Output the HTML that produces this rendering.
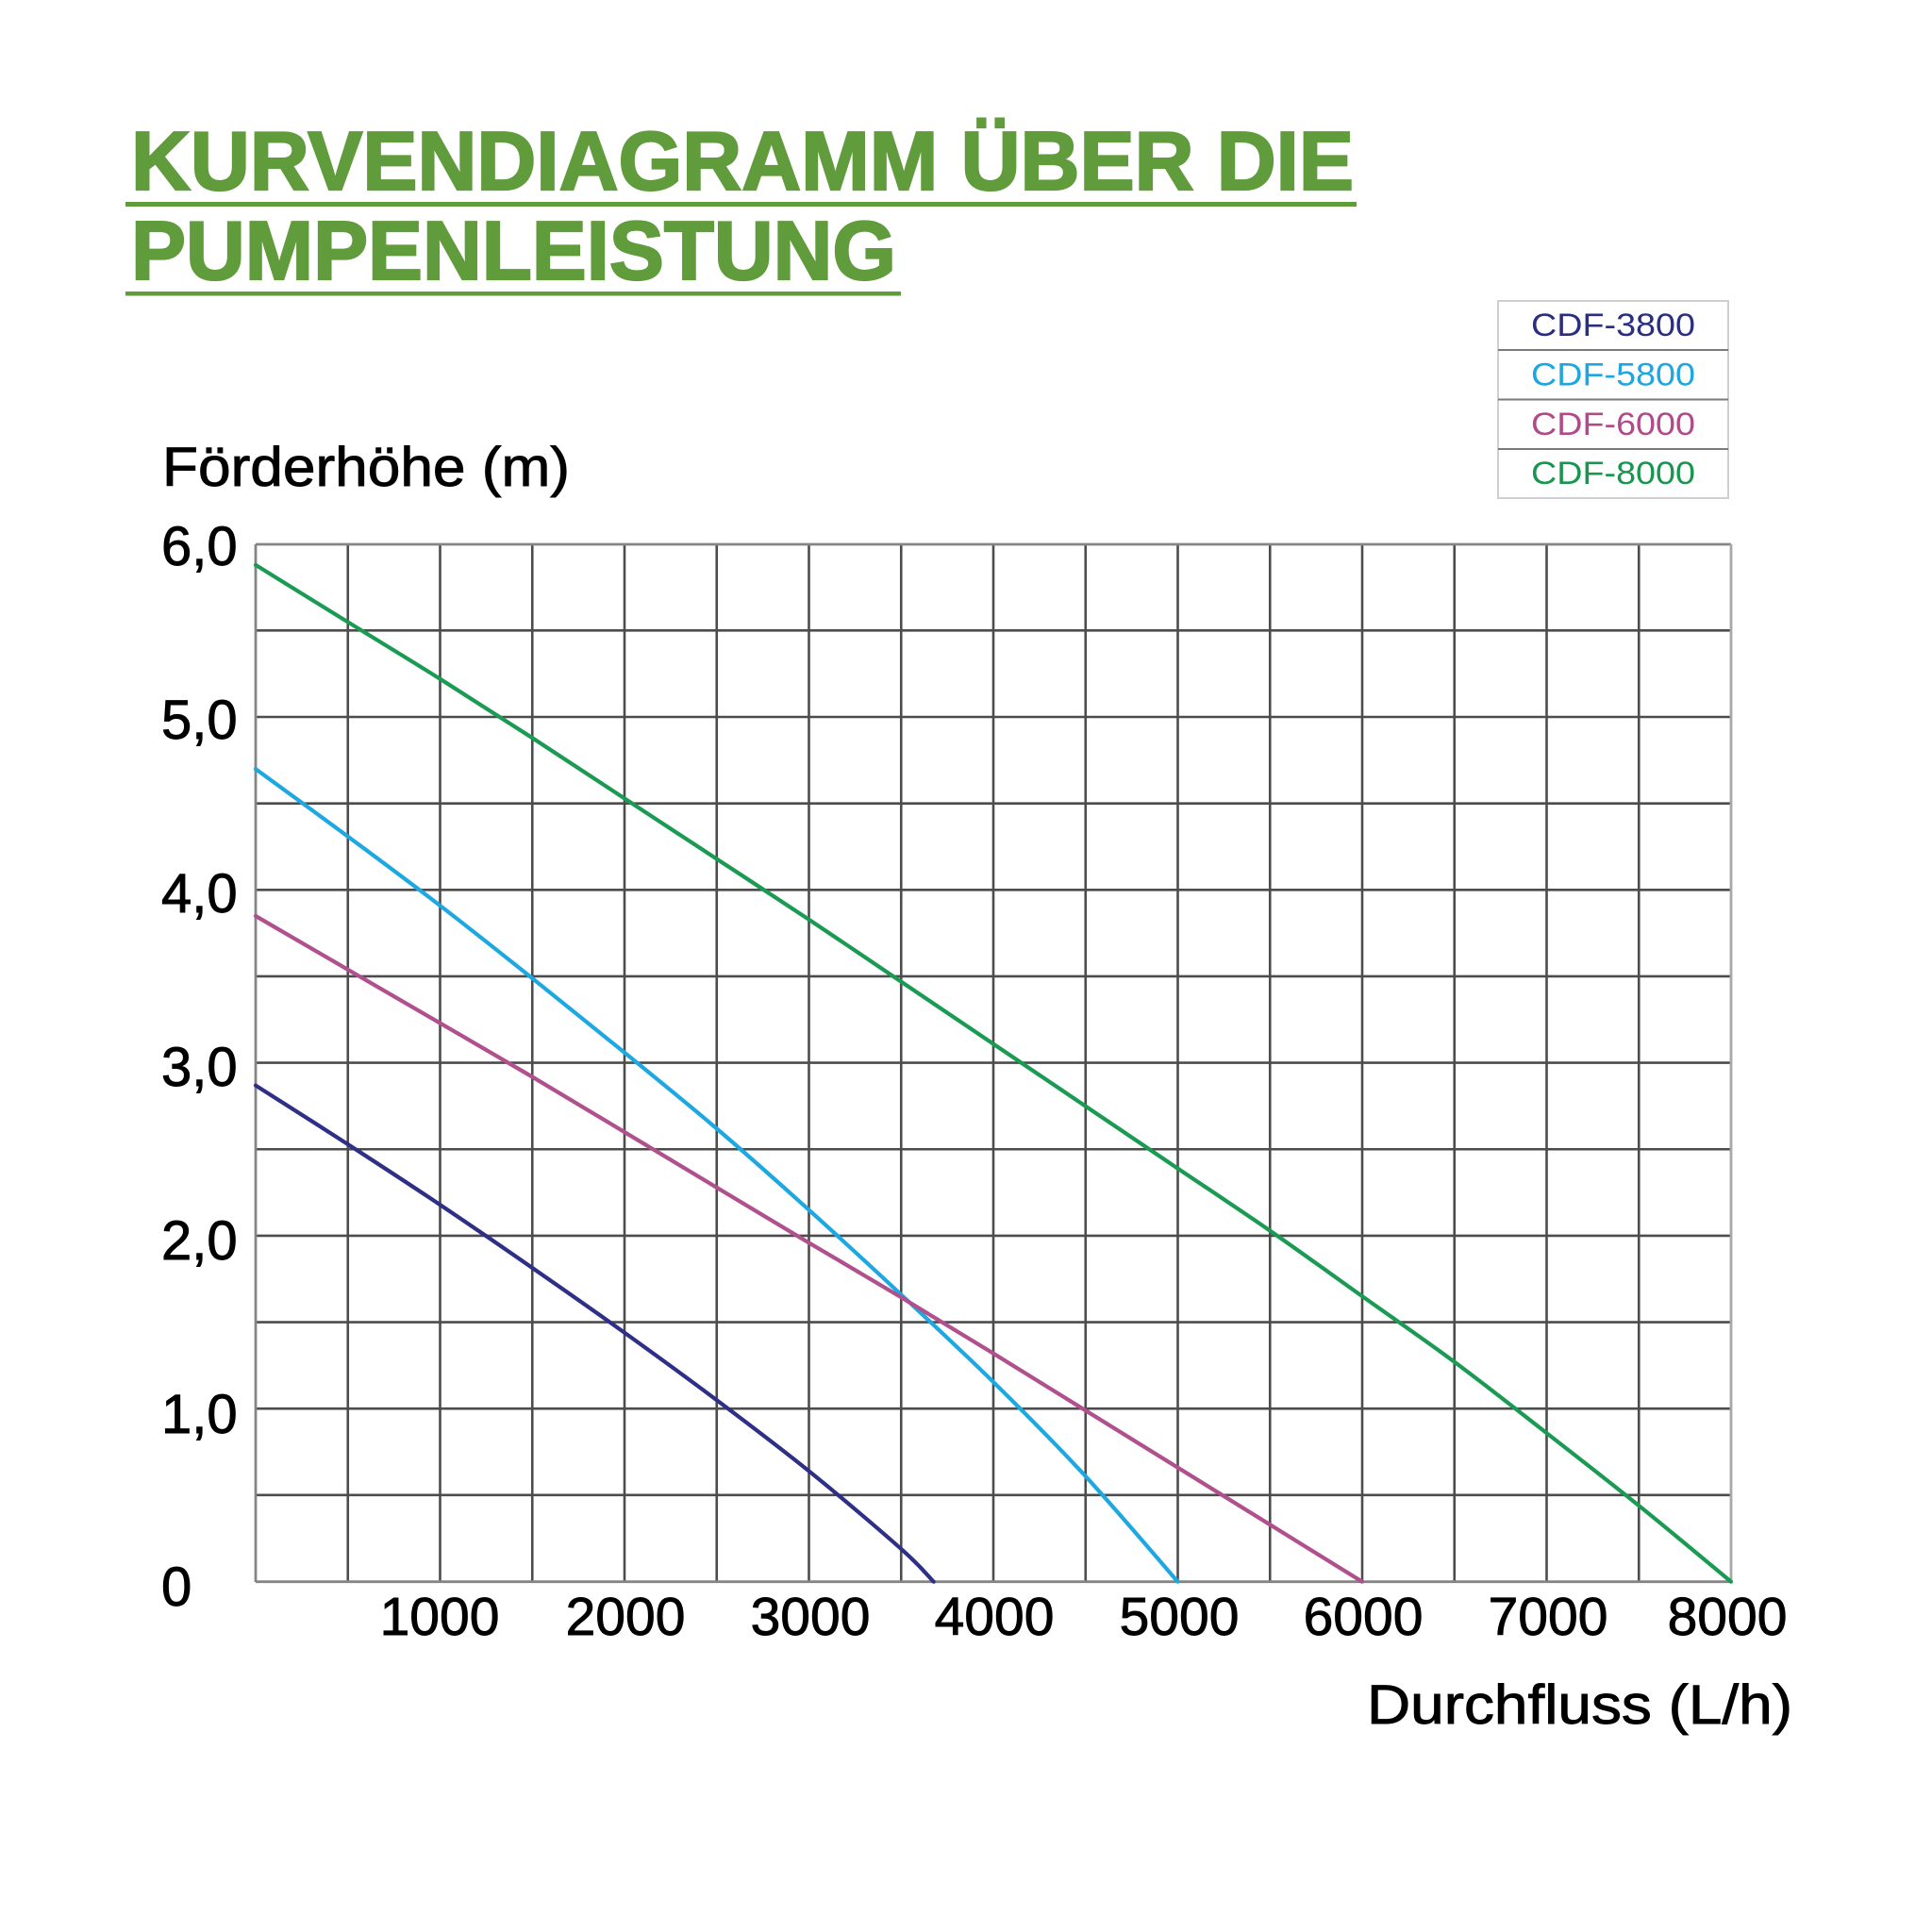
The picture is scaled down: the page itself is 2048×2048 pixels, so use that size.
<!DOCTYPE html>
<html>
<head>
<meta charset="utf-8">
<style>
html,body{margin:0;padding:0;background:#fff;}
svg{display:block;}
</style>
</head>
<body>
<svg id="chart" width="2048" height="2048" viewBox="0 0 2048 2048" xmlns="http://www.w3.org/2000/svg">
<rect width="2048" height="2048" fill="#fff"/>

<!-- Title -->
<g fill="#609b3c" stroke="#609b3c" stroke-width="2.2" font-family="'Liberation Sans', sans-serif" font-weight="bold" font-size="88">
<text x="139" y="201" textLength="1296" lengthAdjust="spacingAndGlyphs">KURVENDIAGRAMM ÜBER DIE</text>
<text x="139" y="296" textLength="811" lengthAdjust="spacingAndGlyphs">PUMPENLEISTUNG</text>
</g>
<rect x="133" y="214" width="1305" height="5" fill="#609b3c"/>
<rect x="133" y="309" width="822" height="4.5" fill="#609b3c"/>

<!-- Legend -->
<g>
<rect x="1588" y="319" width="244" height="209" fill="#fff" stroke="#cfcfcf" stroke-width="2"/>
<line x1="1588" y1="371" x2="1832" y2="371" stroke="#7a7a7a" stroke-width="2"/>
<line x1="1588" y1="423.5" x2="1832" y2="423.5" stroke="#7a7a7a" stroke-width="2"/>
<line x1="1588" y1="476" x2="1832" y2="476" stroke="#7a7a7a" stroke-width="2"/>
<g font-family="'Liberation Sans', sans-serif" font-size="34">
<text x="1623" y="356" textLength="174" lengthAdjust="spacingAndGlyphs" fill="#2b2e80">CDF-3800</text>
<text x="1623" y="408.5" textLength="174" lengthAdjust="spacingAndGlyphs" fill="#1ea6e0">CDF-5800</text>
<text x="1623" y="461" textLength="174" lengthAdjust="spacingAndGlyphs" fill="#b04a8a">CDF-6000</text>
<text x="1623" y="513" textLength="174" lengthAdjust="spacingAndGlyphs" fill="#18954e">CDF-8000</text>
</g>
</g>

<!-- Axis titles -->
<g font-family="'Liberation Sans', sans-serif" font-size="58" fill="#000" stroke="#000" stroke-width="0.9">
<text x="172" y="515" textLength="432" lengthAdjust="spacingAndGlyphs">Förderhöhe (m)</text>
<text x="1449" y="1827" textLength="451" lengthAdjust="spacingAndGlyphs">Durchfluss (L/h)</text>
</g>

<!-- Grid -->
<g stroke="#4c4c4c" stroke-width="2.6">
<line x1="368.75" y1="577" x2="368.75" y2="1677"/>
<line x1="466.5" y1="577" x2="466.5" y2="1677"/>
<line x1="564.25" y1="577" x2="564.25" y2="1677"/>
<line x1="662" y1="577" x2="662" y2="1677"/>
<line x1="759.75" y1="577" x2="759.75" y2="1677"/>
<line x1="857.5" y1="577" x2="857.5" y2="1677"/>
<line x1="955.25" y1="577" x2="955.25" y2="1677"/>
<line x1="1053" y1="577" x2="1053" y2="1677"/>
<line x1="1150.75" y1="577" x2="1150.75" y2="1677"/>
<line x1="1248.5" y1="577" x2="1248.5" y2="1677"/>
<line x1="1346.25" y1="577" x2="1346.25" y2="1677"/>
<line x1="1444" y1="577" x2="1444" y2="1677"/>
<line x1="1541.75" y1="577" x2="1541.75" y2="1677"/>
<line x1="1639.5" y1="577" x2="1639.5" y2="1677"/>
<line x1="1737.25" y1="577" x2="1737.25" y2="1677"/>

<line x1="271" y1="668.35" x2="1835" y2="668.35"/>
<line x1="271" y1="760" x2="1835" y2="760"/>
<line x1="271" y1="851.65" x2="1835" y2="851.65"/>
<line x1="271" y1="943.3" x2="1835" y2="943.3"/>
<line x1="271" y1="1034.95" x2="1835" y2="1034.95"/>
<line x1="271" y1="1126.6" x2="1835" y2="1126.6"/>
<line x1="271" y1="1218.25" x2="1835" y2="1218.25"/>
<line x1="271" y1="1309.9" x2="1835" y2="1309.9"/>
<line x1="271" y1="1401.55" x2="1835" y2="1401.55"/>
<line x1="271" y1="1493.2" x2="1835" y2="1493.2"/>
<line x1="271" y1="1584.85" x2="1835" y2="1584.85"/>
</g>
<g stroke="#858585" stroke-width="2.8" fill="none">
<line x1="271" y1="577" x2="1835" y2="577"/>
<line x1="271" y1="1676.7" x2="1835" y2="1676.7"/>
<line x1="271" y1="577" x2="271" y2="1677"/>
<line x1="1835" y1="577" x2="1835" y2="1677" stroke="#a8a8a8"/>
</g>

<!-- Curves -->
<g id="curves" fill="none" stroke-width="4.2" stroke-linejoin="round" stroke-linecap="round">
<polyline class="crv" stroke="#1a9a52" points="271,598.9 368.75,659.4 466.5,719.7 564.25,782.2 662,846.4 759.75,910.5 857.5,974.7 955.25,1040.6 1053,1106.6 1150.75,1172.6 1248.5,1238.6 1346.25,1304.6 1444,1374.1 1541.75,1443.7 1639.5,1519.1 1737.25,1596.0 1835,1676.7"/>
<polyline class="crv" stroke="#1ea8e2" points="271,815.2 368.75,886.7 466.5,960.0 564.25,1037.0 662,1115.8 759.75,1196.4 857.5,1282.6 955.25,1372.4 1053,1465.0 1150.75,1564.9 1248.5,1676.7"/>
<polyline class="crv" stroke="#b0508d" points="271,971 368.75,1027.8 466.5,1084.6 564.25,1141.5 662,1200.1 759.75,1258.8 857.5,1317.4 955.25,1375.2 1053,1434.7 1150.75,1495.2 1248.5,1555.7 1346.25,1616.2 1444,1676.7"/>
<polyline class="crv" stroke="#2e2f86" points="271,1150.6 368.75,1213 466.5,1277.1 564.25,1344.0 662,1412.7 759.75,1484.2 857.5,1559.4 955.25,1641.9 989.7,1676.7"/>
</g>

<!-- Y tick labels -->
<g font-family="'Liberation Sans', sans-serif" font-size="58" fill="#000" stroke="#000" stroke-width="0.9">
<text x="171" y="599">6,0</text>
<text x="171" y="783">5,0</text>
<text x="171" y="967">4,0</text>
<text x="171" y="1151">3,0</text>
<text x="171" y="1335">2,0</text>
<text x="171" y="1519">1,0</text>
<text x="171" y="1702">0</text>
</g>

<!-- X tick labels -->
<g font-family="'Liberation Sans', sans-serif" font-size="57" fill="#000" stroke="#000" stroke-width="0.9" text-anchor="middle">
<text x="466" y="1733">1000</text>
<text x="663" y="1733">2000</text>
<text x="859" y="1733">3000</text>
<text x="1054" y="1733">4000</text>
<text x="1250" y="1733">5000</text>
<text x="1445" y="1733">6000</text>
<text x="1641" y="1733">7000</text>
<text x="1831" y="1733">8000</text>
</g>
</svg>
<script>
(function(){
  var NS="http://www.w3.org/2000/svg";
  var pls=document.querySelectorAll("polyline.crv");
  for(var k=0;k<pls.length;k++){
    var pl=pls[k];
    var raw=pl.getAttribute("points").trim().split(/\s+/);
    var p=raw.map(function(s){var a=s.split(",");return [parseFloat(a[0]),parseFloat(a[1])];});
    var d="M"+p[0][0]+","+p[0][1];
    for(var i=0;i<p.length-1;i++){
      var p0=p[i>0?i-1:i],p1=p[i],p2=p[i+1],p3=p[i+2<p.length?i+2:i+1];
      var c1x=p1[0]+(p2[0]-p0[0])/6,c1y=p1[1]+(p2[1]-p0[1])/6;
      var c2x=p2[0]-(p3[0]-p1[0])/6,c2y=p2[1]-(p3[1]-p1[1])/6;
      d+=" C"+c1x.toFixed(2)+","+c1y.toFixed(2)+" "+c2x.toFixed(2)+","+c2y.toFixed(2)+" "+p2[0]+","+p2[1];
    }
    var path=document.createElementNS(NS,"path");
    path.setAttribute("d",d);
    path.setAttribute("stroke",pl.getAttribute("stroke"));
    pl.parentNode.replaceChild(path,pl);
  }
})();
</script>
</body>
</html>
